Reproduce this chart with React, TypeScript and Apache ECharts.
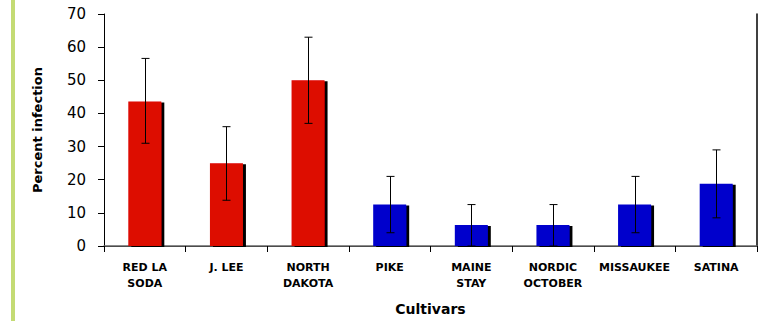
import React, { useEffect, useRef } from "react";
import * as echarts from "echarts";

const categories = ["RED LA\nSODA", "J. LEE", "NORTH\nDAKOTA", "PIKE", "MAINE\nSTAY", "NORDIC\nOCTOBER", "MISSAUKEE", "SATINA"];
const values = [43.6, 25, 50, 12.5, 6.3, 6.3, 12.5, 18.8];
const errLow = [31, 13.8, 37, 4, 0, 0, 4, 8.5];
const errHigh = [56.6, 36, 63, 21, 12.5, 12.5, 21, 29];
const barColors = ["#dd0806", "#dd0806", "#dd0806", "#0000cc", "#0000cc", "#0000cc", "#0000cc", "#0000cc"];
const yTicks = { min: 0, max: 70, interval: 10 };

export default function App() {
  const ref = useRef<HTMLDivElement>(null);
  useEffect(() => {
    if (!ref.current) return;
    const chart = echarts.init(ref.current, null, { renderer: "svg" });
    const font = "'DejaVu Sans', Verdana, sans-serif";
    chart.setOption({
      animation: false,
      textStyle: { fontFamily: font },
      grid: { left: 104, right: 3, top: 14, bottom: 72 },
      graphic: [
        { type: "rect", shape: { x: 11, y: 0, width: 4, height: 321 }, style: { fill: "#c4db74" }, silent: true },
      ],
      xAxis: [
        {
          type: "category",
          data: categories,
          name: "Cultivars",
          nameLocation: "middle",
          nameGap: 56,
          nameTextStyle: { fontSize: 14, fontWeight: "bold", color: "#000", fontFamily: font },
          axisLine: { lineStyle: { color: "#000", width: 1 } },
          axisTick: { show: true, alignWithLabel: false, length: 6, lineStyle: { color: "#000" } },
          axisLabel: { interval: 0, margin: 13, fontSize: 11, fontWeight: "bold", color: "#000", lineHeight: 16, fontFamily: font },
        },
        {
          type: "category",
          data: categories,
          position: "top",
          axisLine: { show: true, lineStyle: { color: "#666", width: 1.5 } },
          axisTick: { show: false },
          axisLabel: { show: false },
        },
      ],
      yAxis: [
        {
          type: "value",
          min: yTicks.min,
          max: yTicks.max,
          interval: yTicks.interval,
          name: "Percent infection",
          nameLocation: "middle",
          nameGap: 60,
          nameRotate: 90,
          nameTextStyle: { fontSize: 13, fontWeight: "bold", color: "#000", fontFamily: font },
          axisLine: { show: true, lineStyle: { color: "#000", width: 1 } },
          axisTick: { show: true, length: 6, lineStyle: { color: "#000" } },
          axisLabel: { margin: 18, fontSize: 15, color: "#000", fontFamily: font },
          splitLine: { show: false },
        },
        {
          type: "value",
          min: yTicks.min,
          max: yTicks.max,
          interval: yTicks.interval,
          position: "right",
          axisLine: { show: true, lineStyle: { color: "#000", width: 1.5 } },
          axisTick: { show: false },
          axisLabel: { show: false },
          splitLine: { show: false },
        },
      ],
      series: [
        {
          type: "bar",
          barWidth: 33,
          data: values.map((v, i) => ({
            value: v,
            itemStyle: {
              color: barColors[i],
              shadowColor: "#000",
              shadowOffsetX: 3,
              shadowOffsetY: 1,
              shadowBlur: 0.01,
            },
          })),
          z: 2,
        },
        {
          type: "custom",
          z: 5,
          data: errLow.map((lo, i) => [i, lo, errHigh[i]]),
          renderItem: (params: any, api: any) => {
            const x = api.value(0);
            const lo = api.coord([x, api.value(1)]);
            const hi = api.coord([x, api.value(2)]);
            const cx = Math.round(lo[0]) + 0.5;
            const half = 4;
            const style = { stroke: "#000", lineWidth: 1 };
            return {
              type: "group",
              children: [
                { type: "line", shape: { x1: cx, y1: lo[1], x2: cx, y2: hi[1] }, style },
                { type: "line", shape: { x1: cx - half, y1: hi[1], x2: cx + half, y2: hi[1] }, style },
                { type: "line", shape: { x1: cx - half, y1: lo[1], x2: cx + half, y2: lo[1] }, style },
              ],
            };
          },
        },
      ],
    });
    return () => chart.dispose();
  }, []);
  return <div ref={ref} style={{ position: "fixed", left: 0, top: 0, width: 760, height: 321, background: "#fff" }} />;
}
